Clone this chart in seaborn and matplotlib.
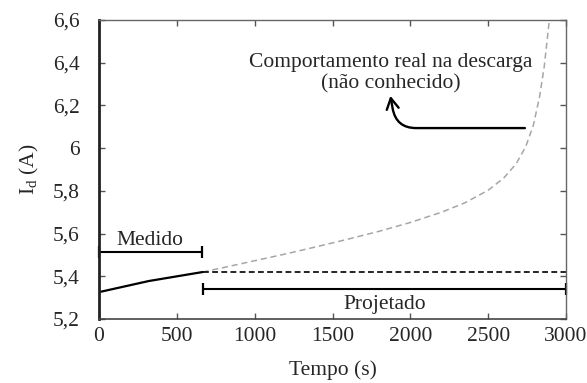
import numpy as np
import pandas as pd
import matplotlib
matplotlib.use("Agg")
import matplotlib.pyplot as plt
import seaborn as sns

# Measured current (solid black)
t_medido = [0, 320, 665]
i_medido = [5.326, 5.378, 5.42]

# Projected (constant) current (black dashed)
t_proj = [665, 3000]
i_proj = [5.42, 5.42]

# Real discharge behaviour (grey dashed)
t_real = [665, 800, 1000, 1200, 1400, 1600, 1800, 2000, 2200, 2350, 2500,
          2600, 2680, 2740, 2790, 2830, 2860, 2878, 2893]
i_real = [5.42, 5.441, 5.473, 5.505, 5.539, 5.574, 5.611, 5.652, 5.70, 5.744, 5.803,
          5.86, 5.927, 6.005, 6.106, 6.24, 6.38, 6.50, 6.60]

x_ticks = [0, 500, 1000, 1500, 2000, 2500, 3000]
x_ticklabels = ["0", "500", "1000", "1500", "2000", "2500", "3000"]
y_ticks = [5.2, 5.4, 5.6, 5.8, 6.0, 6.2, 6.4, 6.6]
y_ticklabels = ["5,2", "5,4", "5,6", "5,8", "6", "6,2", "6,4", "6,6"]

FS = 15.5

sns.set_style("ticks")
plt.rcParams["font.family"] = ["Liberation Serif", "DejaVu Serif"]
plt.rcParams["mathtext.fontset"] = "custom"
plt.rcParams["mathtext.rm"] = "Liberation Serif"
plt.rcParams["mathtext.it"] = "Liberation Serif:italic"
plt.rcParams["font.size"] = FS

fig = plt.figure(figsize=(5.87, 3.83), dpi=100)
ax = fig.add_axes([0.1687, 0.167, 0.7955, 0.7808])

df_real = pd.DataFrame({"t": t_real, "i": i_real})
df_med = pd.DataFrame({"t": t_medido, "i": i_medido})
df_proj = pd.DataFrame({"t": t_proj, "i": i_proj})

sns.lineplot(data=df_real, x="t", y="i", ax=ax, color="#a6a6a6", lw=1.1,
             linestyle=(0, (4, 2.5)), sort=False)
sns.lineplot(data=df_proj, x="t", y="i", ax=ax, color="black", lw=1.2,
             linestyle=(0, (3.5, 2)), sort=False)
sns.lineplot(data=df_med, x="t", y="i", ax=ax, color="black", lw=1.6, sort=False)

# Interval brackets
ax.plot([0, 660], [5.515, 5.515], color="black", lw=1.5, marker="|",
        markersize=8, markeredgewidth=1.6, clip_on=False)
ax.plot([668, 3000], [5.339, 5.339], color="black", lw=1.5, marker="|",
        markersize=8, markeredgewidth=1.6, clip_on=False)
ax.text(330, 5.57, "Medido", ha="center", va="center", fontsize=FS)
ax.text(1834, 5.27, "Projetado", ha="center", va="center", fontsize=FS)

# Annotation of the unknown real behaviour
ax.text(1876, 6.40, "Comportamento real na descarga", ha="center", va="center", fontsize=FS)
ax.text(1876, 6.30, "(não conhecido)", ha="center", va="center", fontsize=FS)
ax.annotate("", xy=(1872, 6.245), xytext=(2736, 6.094),
            arrowprops=dict(arrowstyle="->,head_length=0.5,head_width=0.28",
                            connectionstyle="angle,angleA=0,angleB=100,rad=20",
                            color="black", lw=1.7, shrinkA=0, shrinkB=0))

ax.set_xlim(0, 3000)
ax.set_ylim(5.2, 6.6)
ax.set_xticks(x_ticks)
ax.set_xticklabels(x_ticklabels)
ax.set_yticks(y_ticks)
ax.set_yticklabels(y_ticklabels)
ax.tick_params(direction="in", length=4, width=1, color="#555555",
               top=True, right=True, labelsize=FS)
ax.tick_params(axis="y", pad=14)
ax.tick_params(axis="x", pad=6)

for side in ["top", "right"]:
    ax.spines[side].set_color("#666666")
    ax.spines[side].set_linewidth(1.0)
ax.spines["bottom"].set_color("#444444")
ax.spines["bottom"].set_linewidth(1.2)
ax.spines["left"].set_color("#222222")
ax.spines["left"].set_linewidth(2.0)

ax.set_xlabel("Tempo (s)", fontsize=FS, labelpad=10)
ax.set_ylabel(r"I$_{\mathrm{d}}$ (A)", fontsize=FS, labelpad=8)

fig.savefig("out.png", dpi=100)
